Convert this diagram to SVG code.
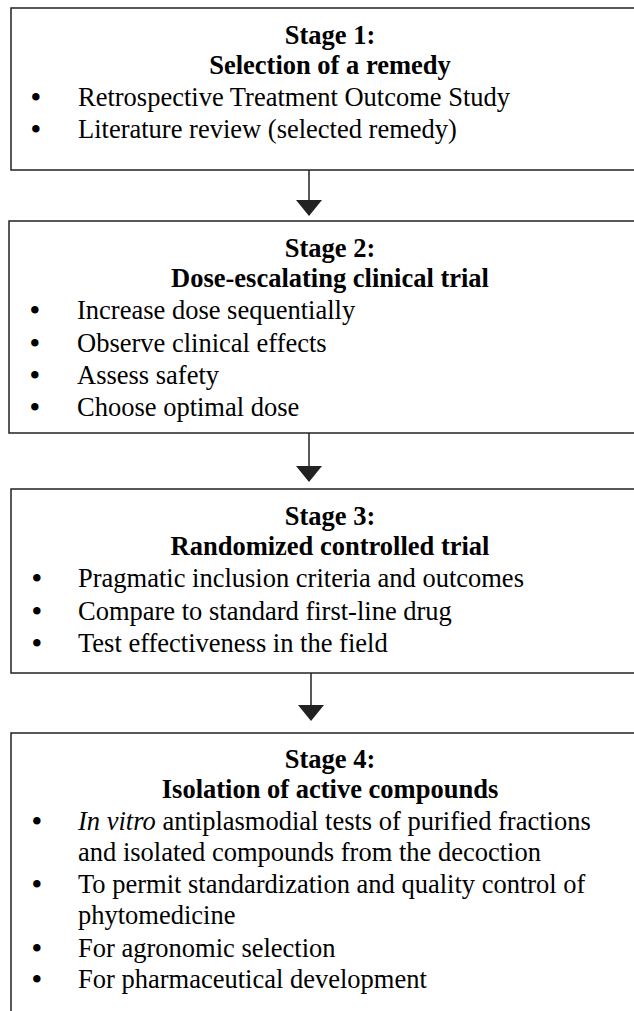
<svg xmlns="http://www.w3.org/2000/svg" width="634" height="1011" viewBox="0 0 634 1011">
<style>
.box{fill:#fff;stroke:#222;stroke-width:1.5}
.h{font-family:"Liberation Serif","Times New Roman",serif;font-size:26.5px;font-weight:bold;text-anchor:middle;fill:#000}
.t{font-family:"Liberation Serif","Times New Roman",serif;font-size:26.5px;fill:#000}
.b{font-size:27.5px;font-weight:bold}
.ln{stroke:#222;stroke-width:1.5;fill:none}
.ah{fill:#222}
</style>
<rect width="634" height="1011" fill="#fff"/>
<g id="stage1">
<rect class="box" x="11" y="8" width="660" height="162"/>
<text class="h" x="330" y="44">Stage 1:</text>
<text class="h" x="330" y="74">Selection of a remedy</text>
<text class="t" y="106"><tspan class="b" x="31">•</tspan><tspan x="78" font-weight="normal">Retrospective Treatment Outcome Study</tspan></text>
<text class="t" y="138"><tspan class="b" x="31">•</tspan><tspan x="78">Literature review (selected remedy)</tspan></text>
</g>
<g id="stage2">
<rect class="box" x="9" y="221" width="660" height="212"/>
<text class="h" x="330" y="257">Stage 2:</text>
<text class="h" x="330" y="287">Dose-escalating clinical trial</text>
<text class="t" y="319"><tspan class="b" x="30">•</tspan><tspan x="77">Increase dose sequentially</tspan></text>
<text class="t" y="352"><tspan class="b" x="30">•</tspan><tspan x="77">Observe clinical effects</tspan></text>
<text class="t" y="384"><tspan class="b" x="30">•</tspan><tspan x="77">Assess safety</tspan></text>
<text class="t" y="416"><tspan class="b" x="30">•</tspan><tspan x="77">Choose optimal dose</tspan></text>
</g>
<g id="stage3">
<rect class="box" x="11" y="489" width="660" height="184"/>
<text class="h" x="330" y="525">Stage 3:</text>
<text class="h" x="330" y="555">Randomized controlled trial</text>
<text class="t" y="587"><tspan class="b" x="32">•</tspan><tspan x="78">Pragmatic inclusion criteria and outcomes</tspan></text>
<text class="t" y="620"><tspan class="b" x="32">•</tspan><tspan x="78">Compare to standard first-line drug</tspan></text>
<text class="t" y="652"><tspan class="b" x="32">•</tspan><tspan x="78">Test effectiveness in the field</tspan></text>
</g>
<g id="stage4">
<rect class="box" x="11" y="733" width="660" height="300"/>
<text class="h" x="330" y="768">Stage 4:</text>
<text class="h" x="330" y="798">Isolation of active compounds</text>
<text class="t" y="830"><tspan class="b" x="32">•</tspan><tspan x="78" font-style="italic">In vitro</tspan><tspan> antiplasmodial tests of purified fractions</tspan></text>
<text class="t" x="78" y="861">and isolated compounds from the decoction</text>
<text class="t" y="893"><tspan class="b" x="32">•</tspan><tspan x="78">To permit standardization and quality control of</tspan></text>
<text class="t" x="78" y="924">phytomedicine</text>
<text class="t" y="957"><tspan class="b" x="32">•</tspan><tspan x="78">For agronomic selection</tspan></text>
<text class="t" y="988"><tspan class="b" x="32">•</tspan><tspan x="78">For pharmaceutical development</tspan></text>
</g>
<g id="connectors">
<line class="ln" x1="309" y1="170" x2="309" y2="202"/>
<polygon class="ah" points="296,200 322,200 309,216"/>
<line class="ln" x1="309" y1="433" x2="309" y2="468"/>
<polygon class="ah" points="296,466 322,466 309,482"/>
<line class="ln" x1="311" y1="673" x2="311" y2="708"/>
<polygon class="ah" points="298,705 324,705 311,721"/>
</g>
</svg>
